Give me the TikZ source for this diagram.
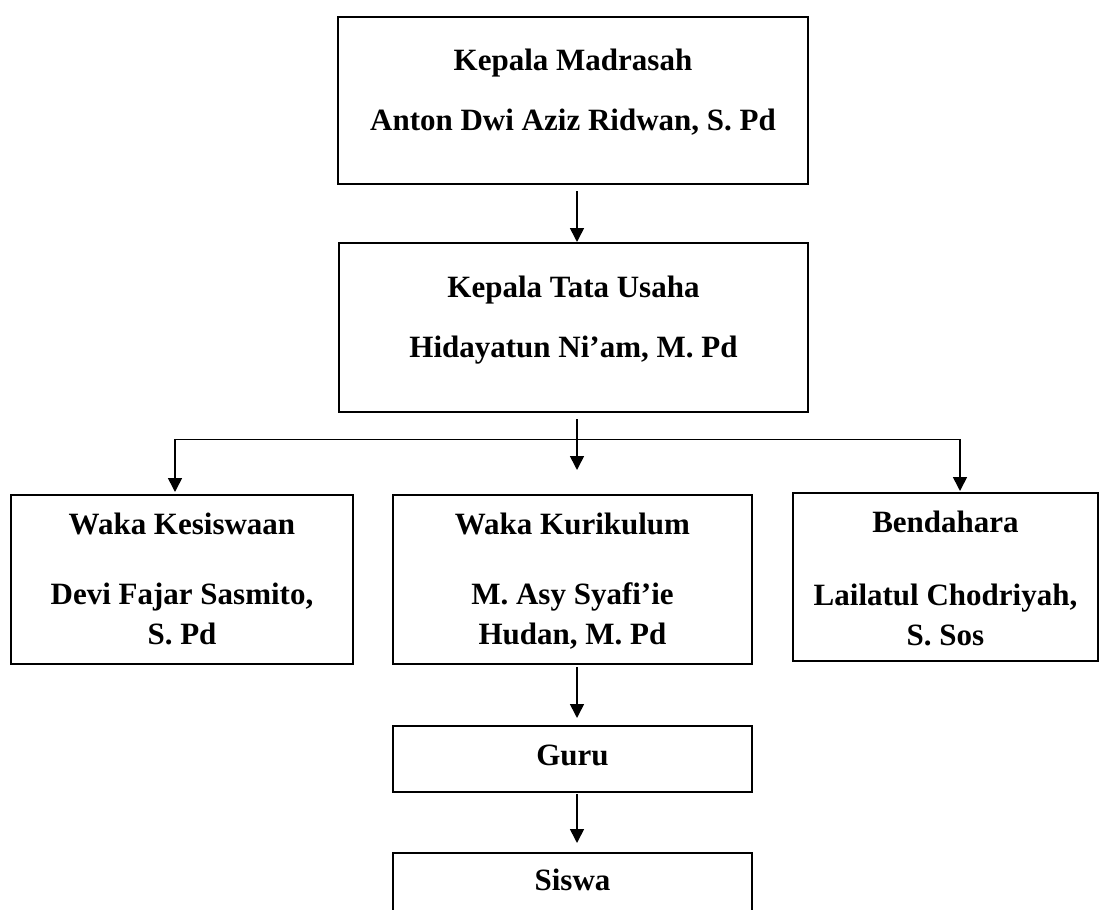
\documentclass[tikz,border=0pt]{standalone}
\usepackage{fontspec}
\setmainfont{Liberation Serif}
\usetikzlibrary{arrows.meta,positioning,calc}

\begin{document}
\begin{tikzpicture}[x=1pt,y=-1pt,>={Triangle[length=14pt,width=14pt]}]
    \tikzset{block/.style={
      draw,
      rectangle,
      line width=2pt,
      inner sep=0pt,
      anchor=north west
    },
    txt/.style={anchor=base, align=center, font=\fontsize{31}{40}\selectfont\bfseries},
    link/.style={draw, line width=1.6pt, ->}};

    \useasboundingbox (0,0) rectangle (1101,910);
    \clip (0,0) rectangle (1101,910);

    \node [block, minimum width=470pt, minimum height=167pt] (km) at (337,16) {};
    \node [block, minimum width=469pt, minimum height=169pt] (tu) at (338,242) {};
    \node [block, minimum width=342pt, minimum height=169pt] (wks) at (10,494) {};
    \node [block, minimum width=359pt, minimum height=169pt] (wku) at (392,494) {};
    \node [block, minimum width=305pt, minimum height=168pt] (bdh) at (792,492) {};
    \node [block, minimum width=359pt, minimum height=66pt] (guru) at (392,725) {};
    \node [block, minimum width=359pt, minimum height=120pt] (siswa) at (392,852) {};

    \node [txt] (kmjab) at ([yshift=-54pt]km.north) {Kepala Madrasah};
    \node [txt] (kmnama) at ([yshift=-114pt]km.north) {Anton Dwi Aziz Ridwan, S. Pd};
    \node [txt] (tujab) at ([yshift=-55pt]tu.north) {Kepala Tata Usaha};
    \node [txt] (tunama) at ([yshift=-115pt]tu.north) {Hidayatun Ni’am, M. Pd};
    \node [txt] (wksjab) at ([yshift=-40pt]wks.north) {Waka Kesiswaan};
    \node [txt] (wksnama) at ([yshift=-150pt]wks.north) {Devi Fajar Sasmito,\\S. Pd};
    \node [txt] (wkujab) at ([yshift=-40pt]wku.north) {Waka Kurikulum};
    \node [txt] (wkunama) at ([yshift=-150pt]wku.north) {M. Asy Syafi’ie\\Hudan, M. Pd};
    \node [txt] (bdhjab) at ([yshift=-40pt]bdh.north) {Bendahara};
    \node [txt] (bdhnama) at ([yshift=-153pt]bdh.north) {Lailatul Chodriyah,\\S. Sos};
    \node [txt] (gurut) at ([yshift=-40pt]guru.north) {Guru};
    \node [txt] (siswat) at ([yshift=-38pt]siswa.north) {Siswa};

    \coordinate (spine) at (577,0);
    \coordinate (hl) at (175,439);
    \coordinate (hr) at (960,439);

    \path[link] ($(spine |- km.south)+(0,6)$) -- (spine |- tu.north);
    \path[link] ($(spine |- tu.south)+(0,6)$) -- ($(spine |- wku.north)+(0,-24)$);
    \path[draw, line width=1pt] (hl) -- (hr);
    \path[link] (hl) -- ($(hl |- wks.north)+(0,-2)$);
    \path[link] (hr) -- ($(hr |- bdh.north)+(0,-1)$);
    \path[link] ($(spine |- wku.south)+(0,2)$) -- ($(spine |- guru.north)+(0,-7)$);
    \path[link] ($(spine |- guru.south)+(0,1)$) -- ($(spine |- siswa.north)+(0,-9)$);

\end{tikzpicture}
\end{document}
